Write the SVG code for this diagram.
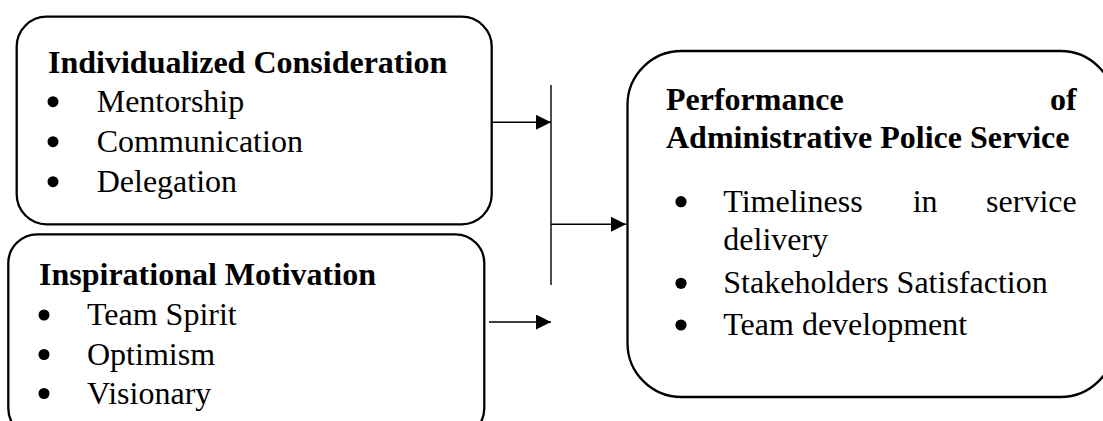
<svg xmlns="http://www.w3.org/2000/svg" width="1103" height="421" viewBox="0 0 1103 421">
  <style>
    .box { fill: #ffffff; stroke: #000000; stroke-width: 2.3; }
    .t { font-family: "Liberation Serif", "Times New Roman", serif; font-size: 32px; fill: #000000; }
    .b { font-weight: bold; }
    .dot { fill: #000000; }
    .conn { stroke: #000000; stroke-width: 1.4; fill: none; }
  </style>
  <defs>
    <marker id="arrow" markerUnits="userSpaceOnUse" markerWidth="16" markerHeight="16" refX="15" refY="7.5" orient="auto">
      <path d="M0,0 L15,7.5 L0,15 Z" fill="#000000"/>
    </marker>
  </defs>
  <rect width="1103" height="421" fill="#ffffff"/>

  <!-- Individualized Consideration -->
  <g id="individualized-consideration">
    <rect class="box" x="16.7" y="16.7" width="475" height="207.6" rx="30" ry="30"/>
    <text class="t b" x="48" y="73.3">Individualized Consideration</text>
    <circle class="dot" cx="53" cy="101.7" r="5.5"/>
    <text class="t" x="96.7" y="111.7">Mentorship</text>
    <circle class="dot" cx="53" cy="141.7" r="5.5"/>
    <text class="t" x="96.7" y="151.7">Communication</text>
    <circle class="dot" cx="53" cy="181.7" r="5.5"/>
    <text class="t" x="96.7" y="191.7">Delegation</text>
  </g>

  <!-- Inspirational Motivation -->
  <g id="inspirational-motivation">
    <rect class="box" x="8.3" y="234.3" width="476" height="203" rx="29" ry="29"/>
    <text class="t b" x="39" y="285">Inspirational Motivation</text>
    <circle class="dot" cx="44" cy="315" r="5.5"/>
    <text class="t" x="87" y="325">Team Spirit</text>
    <circle class="dot" cx="44" cy="354.5" r="5.5"/>
    <text class="t" x="87" y="364.5">Optimism</text>
    <circle class="dot" cx="44" cy="393.5" r="5.5"/>
    <text class="t" x="87" y="403.5">Visionary</text>
  </g>

  <!-- Performance of Administrative Police Service -->
  <g id="performance">
    <rect class="box" x="627.5" y="51" width="487" height="346" rx="54" ry="54"/>
    <text class="t b" x="666" y="110">Performance</text>
    <text class="t b" x="1076.7" y="110" text-anchor="end">of</text>
    <text class="t b" x="666" y="148.3">Administrative Police Service</text>
    <circle class="dot" cx="681" cy="201.7" r="5.6"/>
    <text class="t" x="723.3" y="211.7">Timeliness</text>
    <text class="t" x="912.7" y="211.7">in</text>
    <text class="t" x="1076.7" y="211.7" text-anchor="end">service</text>
    <text class="t" x="723.3" y="250">delivery</text>
    <circle class="dot" cx="681" cy="283.3" r="5.6"/>
    <text class="t" x="723.3" y="293.3">Stakeholders Satisfaction</text>
    <circle class="dot" cx="681" cy="325" r="5.6"/>
    <text class="t" x="723.3" y="335">Team development</text>
  </g>

  <!-- connectors -->
  <g id="connectors">
    <line class="conn" x1="492" y1="122.3" x2="551" y2="122.3" marker-end="url(#arrow)"/>
    <line class="conn" x1="551" y1="85" x2="551" y2="285"/>
    <line class="conn" x1="551" y1="224.3" x2="626" y2="224.3" marker-end="url(#arrow)"/>
    <line class="conn" x1="489" y1="322" x2="551" y2="322" marker-end="url(#arrow)"/>
  </g>
</svg>
